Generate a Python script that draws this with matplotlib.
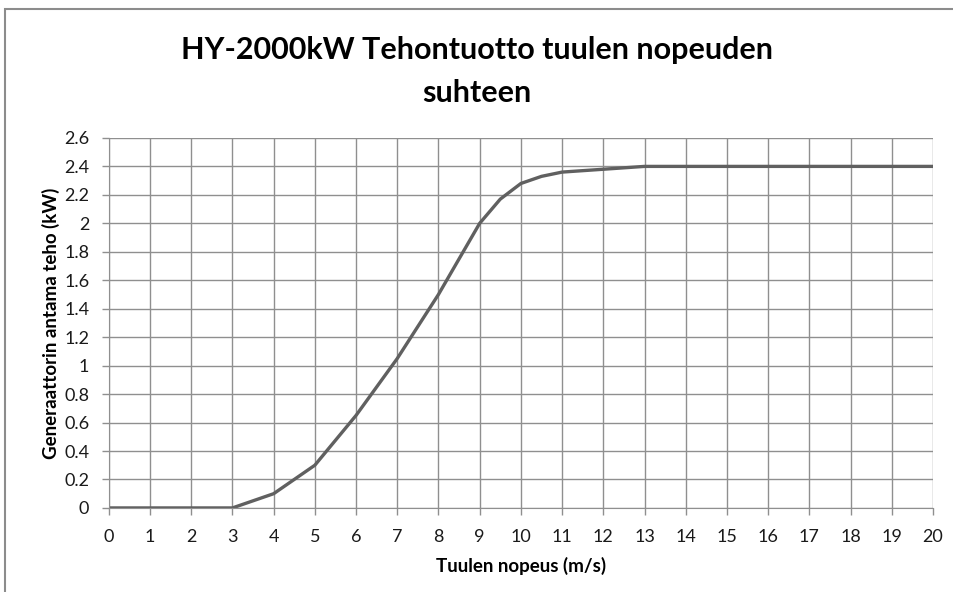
import matplotlib.pyplot as plt
from matplotlib.patches import Rectangle
from matplotlib.ticker import FuncFormatter

# Wind speed (m/s) and generator power (kW)
wind_speed = [0, 1, 2, 3, 4, 4.5, 5, 6, 7, 8, 9, 9.5, 10, 10.5, 11, 12, 13,
              14, 15, 16, 17, 18, 19, 20]
power = [0, 0, 0, 0, 0.1, 0.2, 0.3, 0.65, 1.05, 1.5, 2.0, 2.17, 2.28, 2.33,
         2.36, 2.38, 2.4, 2.4, 2.4, 2.4, 2.4, 2.4, 2.4, 2.4]

x_ticks = list(range(0, 21))
y_ticks = [i * 0.2 for i in range(14)]

title_lines = ['HY-2000kW Tehontuotto tuulen nopeuden', 'suhteen']
x_label = 'Tuulen nopeus (m/s)'
y_label = 'Generaattorin antama teho (kW)'

plt.rcParams['font.family'] = ['Lato', 'DejaVu Sans']

fig = plt.figure(figsize=(9.54, 5.92), dpi=100)
ax = fig.add_axes([0.114, 0.142, 0.864, 0.625])

# chart border (cropped at right and bottom like the reference)
fig.patches.append(Rectangle((5 / 954, -0.1), 1.2, 1 - 9 / 592 + 0.1,
                             transform=fig.transFigure, fill=False,
                             edgecolor='#8c8c8c', linewidth=1.5))

ax.plot(wind_speed, power, color='#606060', linewidth=2.4, solid_joinstyle='round')

ax.set_xlim(0, 20)
ax.set_ylim(0, 2.6)
ax.set_xticks(x_ticks)
ax.set_yticks(y_ticks)
ax.yaxis.set_major_formatter(FuncFormatter(lambda v, p: f'{round(v, 1):g}'))
ax.grid(True, color='#8f8f8f', linewidth=1.0)
ax.set_axisbelow(True)

for side in ['top', 'right']:
    ax.spines[side].set_visible(False)
for side in ['left', 'bottom']:
    ax.spines[side].set_color('#8f8f8f')

ax.tick_params(axis='both', colors='#8f8f8f', labelcolor='#1a1a1a',
               labelsize=13, length=5, width=1.0)
ax.tick_params(axis='x', pad=10)
ax.tick_params(axis='y', pad=9)

ax.set_xlabel(x_label, fontsize=13.5, fontweight='bold', labelpad=9)
ax.set_ylabel(y_label, fontsize=13.5, fontweight='bold', labelpad=3)

# two title lines placed on their own baselines
fig.text(0.5, 1 - 59 / 592, title_lines[0], ha='center', va='baseline',
         fontsize=22, fontweight='bold')
fig.text(0.5, 1 - 102 / 592, title_lines[1], ha='center', va='baseline',
         fontsize=22, fontweight='bold')

fig.savefig('out.png', dpi=100)
